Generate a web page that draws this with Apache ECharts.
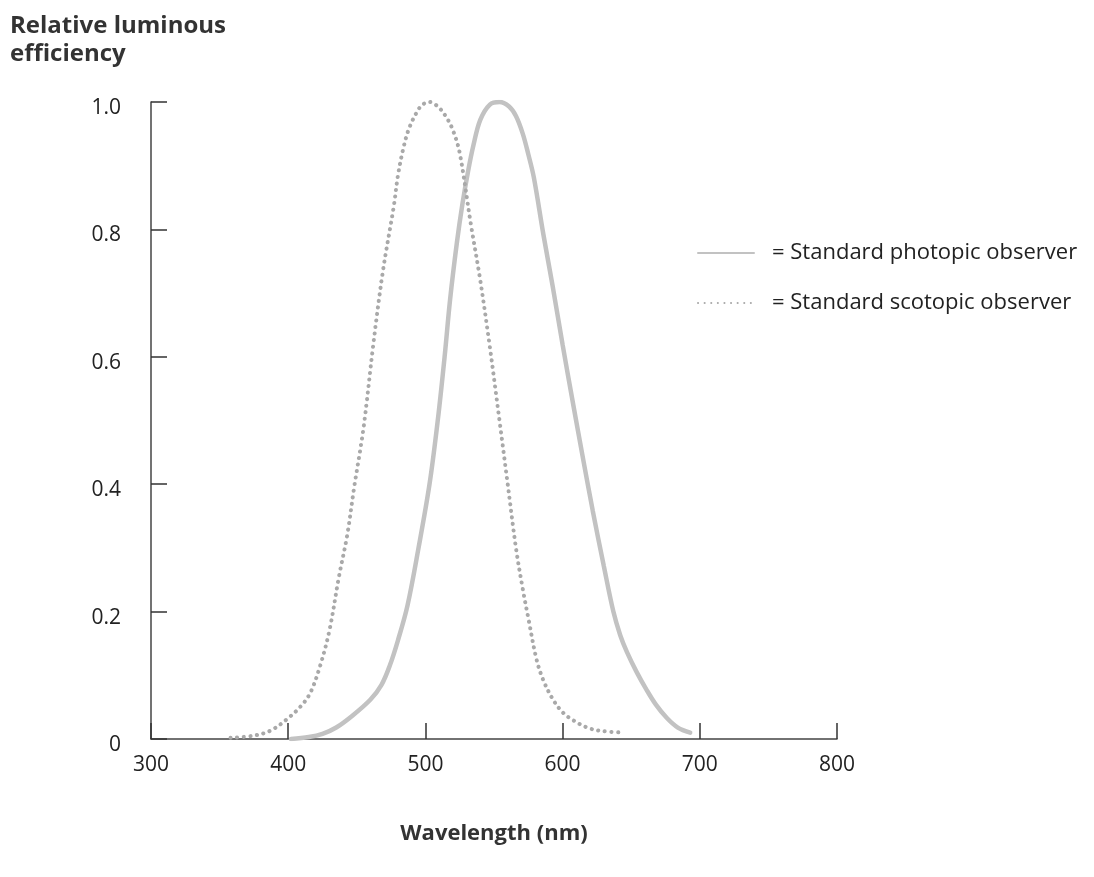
<!DOCTYPE html>
<html>
<head>
<meta charset="utf-8">
<title>Relative luminous efficiency</title>
<script src="https://cdn.jsdelivr.net/npm/echarts@6/dist/echarts.min.js"></script>
<style>
    html, body { margin: 0; padding: 0; background: #fff; }
    #chart { width: 1094px; height: 877px; }
</style>
</head>
<body>
<div id="chart"></div>
<script>
// wavelength (nm) / relative efficiency
const photopicNm = [402, 415, 425, 435, 447, 460, 468, 474, 480, 487, 495, 503, 509, 514, 518, 523, 527, 531, 535, 540, 547, 554, 561, 566, 571, 575, 579, 586, 593, 600, 608, 615, 622, 630, 637, 642, 647, 654, 661, 668, 676, 684, 693];
const photopicVal = [0, 0.003, 0.008, 0.018, 0.037, 0.062, 0.085, 0.115, 0.155, 0.21, 0.3, 0.4, 0.5, 0.6, 0.69, 0.78, 0.84, 0.89, 0.932, 0.972, 0.996, 1.0, 0.993, 0.978, 0.95, 0.918, 0.882, 0.792, 0.708, 0.619, 0.522, 0.439, 0.358, 0.272, 0.2, 0.163, 0.136, 0.105, 0.078, 0.054, 0.033, 0.018, 0.01];

const scotopicNm = [358, 374, 387, 399, 409, 416, 423, 430, 437, 443, 448, 455, 462, 469, 477, 480, 484, 488, 494, 498, 503, 509, 515, 520, 525, 533, 540, 547, 554, 560, 566, 571, 575, 581, 586, 593, 600, 608, 618, 627, 644];
const scotopicVal = [0.002, 0.005, 0.013, 0.031, 0.051, 0.072, 0.113, 0.17, 0.255, 0.32, 0.394, 0.49, 0.619, 0.734, 0.837, 0.885, 0.928, 0.958, 0.985, 0.996, 1.0, 0.993, 0.977, 0.956, 0.92, 0.81, 0.72, 0.615, 0.5, 0.4, 0.3, 0.235, 0.19, 0.125, 0.092, 0.062, 0.042, 0.029, 0.018, 0.013, 0.01];

const seriesNames = ['= Standard photopic observer', '= Standard scotopic observer'];
const yTitle = 'Relative luminous\nefficiency';
const xTitle = 'Wavelength (nm)';

const font = '"Open Sans", "Noto Sans", sans-serif';
const chart = echarts.init(document.getElementById('chart'), null, { renderer: 'canvas' });

const zip = (xs, ys) => xs.map((x, i) => [x, ys[i]]);

const option = {
    backgroundColor: '#fff',
    animation: false,
    title: {
        text: yTitle,
        left: 5,
        top: 7,
        textStyle: { fontFamily: font, fontSize: 24, fontWeight: 'bold', color: '#333', lineHeight: 28 }
    },
    legend: {
        orient: 'vertical',
        left: 692,
        top: 237,
        itemWidth: 56,
        itemHeight: 14,
        itemGap: 28,
        itemStyle: { opacity: 0 },
        textStyle: { fontFamily: font, fontSize: 22, color: '#222', padding: [0, 0, 0, 13] },
        data: seriesNames
    },
    grid: { left: 151, right: 257, top: 102, bottom: 138, containLabel: false },
    xAxis: {
        type: 'value',
        min: 300,
        max: 800,
        interval: 100,
        name: xTitle,
        nameLocation: 'middle',
        nameGap: 84,
        nameTextStyle: { fontFamily: font, fontSize: 22, fontWeight: 'bold', color: '#333' },
        axisLine: { lineStyle: { color: '#444', width: 1.5 } },
        axisTick: { inside: true, length: 16, lineStyle: { color: '#333', width: 1.5 } },
        axisLabel: { margin: 16, fontFamily: font, fontSize: 21, color: '#222' },
        splitLine: { show: false }
    },
    yAxis: {
        type: 'value',
        min: 0,
        max: 1,
        interval: 0.2,
        axisLine: { show: true, lineStyle: { color: '#444', width: 1.5 } },
        axisTick: { show: true, inside: true, length: 16, lineStyle: { color: '#333', width: 1.5 } },
        axisLabel: {
            margin: 30,
            fontFamily: font,
            fontSize: 21,
            color: '#222',
            formatter: v => '{v|' + (v === 0 ? '0' : v.toFixed(1)) + '}',
            rich: {
                v: { fontFamily: font, fontSize: 21, color: '#222', padding: [12, 0, 0, 0] }
            }
        },
        splitLine: { show: false }
    },
    series: [
        {
            name: seriesNames[0],
            type: 'line',
            data: zip(photopicNm, photopicVal),
            symbol: 'none',
            smooth: 0.35,
            lineStyle: { color: '#c2c2c2', width: 4.5, cap: 'round' },
            itemStyle: { color: '#c2c2c2' }
        },
        {
            name: seriesNames[1],
            type: 'line',
            data: zip(scotopicNm, scotopicVal),
            symbol: 'none',
            smooth: 0.35,
            lineStyle: { color: '#a9a9a9', width: 4, type: [0.1, 6.5], cap: 'round' },
            itemStyle: { color: '#a9a9a9' }
        }
    ]
};

chart.setOption(option);
</script>
</body>
</html>
